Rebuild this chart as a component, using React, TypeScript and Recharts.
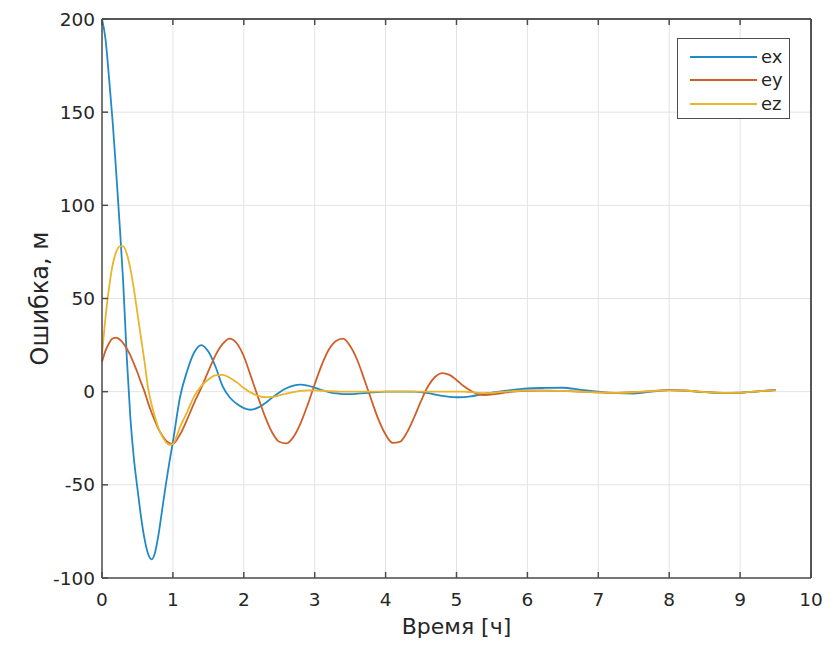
import { LineChart, Line, XAxis, YAxis, CartesianGrid, Legend, ReferenceLine } from 'recharts';

// time, hours
const time = [
    0, 0.05, 0.1, 0.15, 0.2, 0.25, 0.3, 0.35, 0.4, 0.45, 0.5, 0.55, 0.6, 0.65, 0.7, 0.75, 0.8, 0.85, 0.9, 0.95, 1.0,
    1.1, 1.2, 1.3, 1.4, 1.5, 1.6, 1.7, 1.8, 1.9, 2.0,
    2.1, 2.2, 2.3, 2.4, 2.5, 2.6, 2.7, 2.8, 2.9, 3.0,
    3.1, 3.2, 3.3, 3.4, 3.5, 3.6, 3.7, 3.8, 3.9, 4.0,
    4.1, 4.2, 4.3, 4.4, 4.5, 4.6, 4.7, 4.8, 4.9, 5.0,
    5.1, 5.2, 5.3, 5.4, 5.5, 5.6, 5.7, 5.8, 5.9, 6.0,
    6.25, 6.5, 6.75, 7, 7.25, 7.5, 7.75, 8, 8.25, 8.5, 8.75, 9, 9.25, 9.5,
];

const ex = [
    200, 189, 168, 145, 118, 89, 58, 18, -14, -36, -52, -67, -79, -87, -90, -86, -76, -63, -50, -38, -27,
    -3, 11, 21, 25, 21.5, 13.5, 3, -3, -6.5, -8.8,
    -9.7, -8.6, -6.2, -3.2, -0.4, 1.8, 3.3, 3.8, 3.3, 2.2,
    0.9, -0.2, -0.9, -1.3, -1.3, -1.1, -0.8, -0.4, -0.2, 0,
    0, 0, 0, 0, -0.2, -0.8, -1.6, -2.3, -2.8, -3,
    -2.9, -2.5, -1.8, -1, -0.5, 0, 0.5, 1, 1.4, 1.7,
    2, 2.1, 1, 0, -0.8, -1, 0, 0.8, 0.5, -0.3, -0.8, -0.6, 0.2, 0.9,
];

const ey = [
    16, 22, 26, 28.5, 29, 28, 26, 23, 19.5, 15, 10.3, 5, 0, -6, -11.3, -16, -20.4, -23.5, -26.2, -27.6, -28,
    -23, -15, -6, 2, 11, 19.5, 25.5, 28.5, 26, 19,
    8.2, -2.8, -13.4, -21.9, -26.9, -27.8, -24.3, -17, -7.1, 4,
    14.4, 22.6, 27.2, 28.5, 24.5, 17, 6.5, -4.5, -15, -23,
    -27.5, -27, -22, -14, -5, 3, 8, 10, 9, 6.3,
    3, 0.5, -1.3, -1.8, -1.5, -1, -0.4, 0, 0.3, 0.5,
    0.6, 0.4, 0, -0.4, -0.6, -0.3, 0.3, 0.8, 0.5, -0.2, -0.6, -0.5, 0.2, 0.8,
];

const ez = [
    20, 40, 56, 68, 75, 78, 78, 74, 66, 55, 42, 29, 16, 2, -7, -14, -20, -24, -27, -28.5, -28,
    -19, -11, -2.5, 3, 6.5, 8.7, 9, 7.5, 5, 2,
    -0.5, -2.2, -3, -2.8, -2, -1, -0.2, 0.4, 0.7, 0.7,
    0.5, 0.3, 0.1, 0, 0, 0, 0, 0, 0, 0,
    0, 0, 0, 0, 0, 0, 0, 0, 0, 0,
    0, -0.3, -0.6, -0.8, -0.6, -0.3, 0, 0.3, 0.5, 0.6,
    0.6, 0.4, 0, -0.4, -0.6, -0.3, 0.3, 0.7, 0.5, -0.2, -0.6, -0.5, 0.2, 0.7,
];

const xTicks = [0, 1, 2, 3, 4, 5, 6, 7, 8, 9, 10];
const yTicks = [-100, -50, 0, 50, 100, 150, 200];

const data = time.map((t, i) => ({ t, ex: ex[i], ey: ey[i], ez: ez[i] }));

const FONT = '"DejaVu Sans", "Liberation Sans", Arial, sans-serif';
const AXIS = '#4d4d4d';
const TEXT = '#262626';
const TICK_IN = 6;

/* eslint-disable @typescript-eslint/no-explicit-any */
function BottomTick({ x, y, payload }: any) {
    return (
        <g>
            <line x1={x} x2={x} y1={y - 14} y2={y - 14 - TICK_IN} stroke={AXIS} strokeWidth={1.5} />
            <text x={x} y={y} dy="0.75em" textAnchor="middle" fontSize={18.5} fill={TEXT} fontFamily={FONT}>
                {payload.value}
            </text>
        </g>
    );
}

function LeftTick({ x, y, payload }: any) {
    return (
        <g>
            <line x1={x + 7} x2={x + 7 + TICK_IN} y1={y} y2={y} stroke={AXIS} strokeWidth={1.5} />
            <text x={x} y={y} dy="0.36em" textAnchor="end" fontSize={18.5} fill={TEXT} fontFamily={FONT}>
                {payload.value}
            </text>
        </g>
    );
}

function TopTick({ x, y }: any) {
    return <line x1={x} x2={x} y1={y} y2={y + TICK_IN} stroke={AXIS} strokeWidth={1.5} />;
}

function RightTick({ x, y }: any) {
    return <line x1={x} x2={x - TICK_IN} y1={y} y2={y} stroke={AXIS} strokeWidth={1.5} />;
}

function YLabel({ viewBox }: any) {
    const cx = viewBox.x + 40;
    const cy = viewBox.y + viewBox.height / 2;
    return (
        <text x={cx} y={cy} transform={`rotate(-90 ${cx} ${cy})`} textAnchor="middle" dominantBaseline="central"
            fontSize={24} fill={TEXT} fontFamily={FONT}>
            Ошибка, м
        </text>
    );
}

function XLabel({ viewBox }: any) {
    const cx = viewBox.x + viewBox.width / 2;
    const cy = viewBox.y + 48;
    return (
        <text x={cx} y={cy} textAnchor="middle" dominantBaseline="central" fontSize={22} fill={TEXT} fontFamily={FONT}>
            Время [ч]
        </text>
    );
}

function LegendBox({ payload }: any) {
    return (
        <div style={{
            border: `1.5px solid ${AXIS}`, background: '#fff', width: 113, height: 81,
            boxSizing: 'border-box', padding: '6px 0 0 12px', fontFamily: FONT, fontSize: 18, color: TEXT,
        }}>
            {payload.map((p: any) => (
                <div key={p.value} style={{ display: 'flex', alignItems: 'center', height: 23.5 }}>
                    <div style={{ width: 67, height: 1.8, background: p.color, marginRight: 4 }} />
                    <span style={{ lineHeight: '18px' }}>{p.value}</span>
                </div>
            ))}
        </div>
    );
}

export default function App() {
    return (
        <div style={{ position: 'absolute', left: 0, top: 0, width: 835, height: 645, background: '#fff' }}>
            <LineChart width={835} height={645} data={data} margin={{ top: 18, right: 23, bottom: 37, left: 0 }}>
                <CartesianGrid stroke="#e3e3e3" strokeWidth={1} />
                <XAxis
                    dataKey="t"
                    type="number"
                    domain={[0, 10]}
                    ticks={xTicks}
                    height={30}
                    tickLine={false}
                    tickSize={0}
                    tickMargin={14}
                    stroke={AXIS}
                    strokeWidth={1.5}
                    tick={<BottomTick />}
                    label={<XLabel />}
                />
                <XAxis
                    xAxisId="top"
                    orientation="top"
                    dataKey="t"
                    type="number"
                    domain={[0, 10]}
                    ticks={xTicks}
                    height={1}
                    tickLine={false}
                    tickSize={0}
                    tickMargin={0}
                    stroke={AXIS}
                    strokeWidth={1.5}
                    tick={<TopTick />}
                />
                <YAxis
                    type="number"
                    domain={[-100, 200]}
                    ticks={yTicks}
                    width={102}
                    tickLine={false}
                    tickSize={0}
                    tickMargin={7}
                    stroke={AXIS}
                    strokeWidth={1.5}
                    tick={<LeftTick />}
                    label={<YLabel />}
                />
                <YAxis
                    yAxisId="right"
                    orientation="right"
                    type="number"
                    domain={[-100, 200]}
                    ticks={yTicks}
                    width={1}
                    tickLine={false}
                    tickSize={0}
                    tickMargin={0}
                    stroke={AXIS}
                    strokeWidth={1.5}
                    tick={<RightTick />}
                />
                <ReferenceLine y={200} stroke={AXIS} strokeWidth={1.5} ifOverflow="visible" />
                <ReferenceLine x={10} stroke={AXIS} strokeWidth={1.5} ifOverflow="visible" />
                <Legend
                    layout="vertical"
                    align="center"
                    verticalAlign="middle"
                    content={<LegendBox />}
                    wrapperStyle={{ left: 677, top: 38, width: 'auto' }}
                />
                <Line type="monotone" dataKey="ex" name="ex" stroke="#2089c8" strokeWidth={1.8} dot={false} isAnimationActive={false} />
                <Line type="monotone" dataKey="ey" name="ey" stroke="#cf5f28" strokeWidth={1.8} dot={false} isAnimationActive={false} />
                <Line type="monotone" dataKey="ez" name="ez" stroke="#e8b52c" strokeWidth={1.8} dot={false} isAnimationActive={false} />
            </LineChart>
        </div>
    );
}
